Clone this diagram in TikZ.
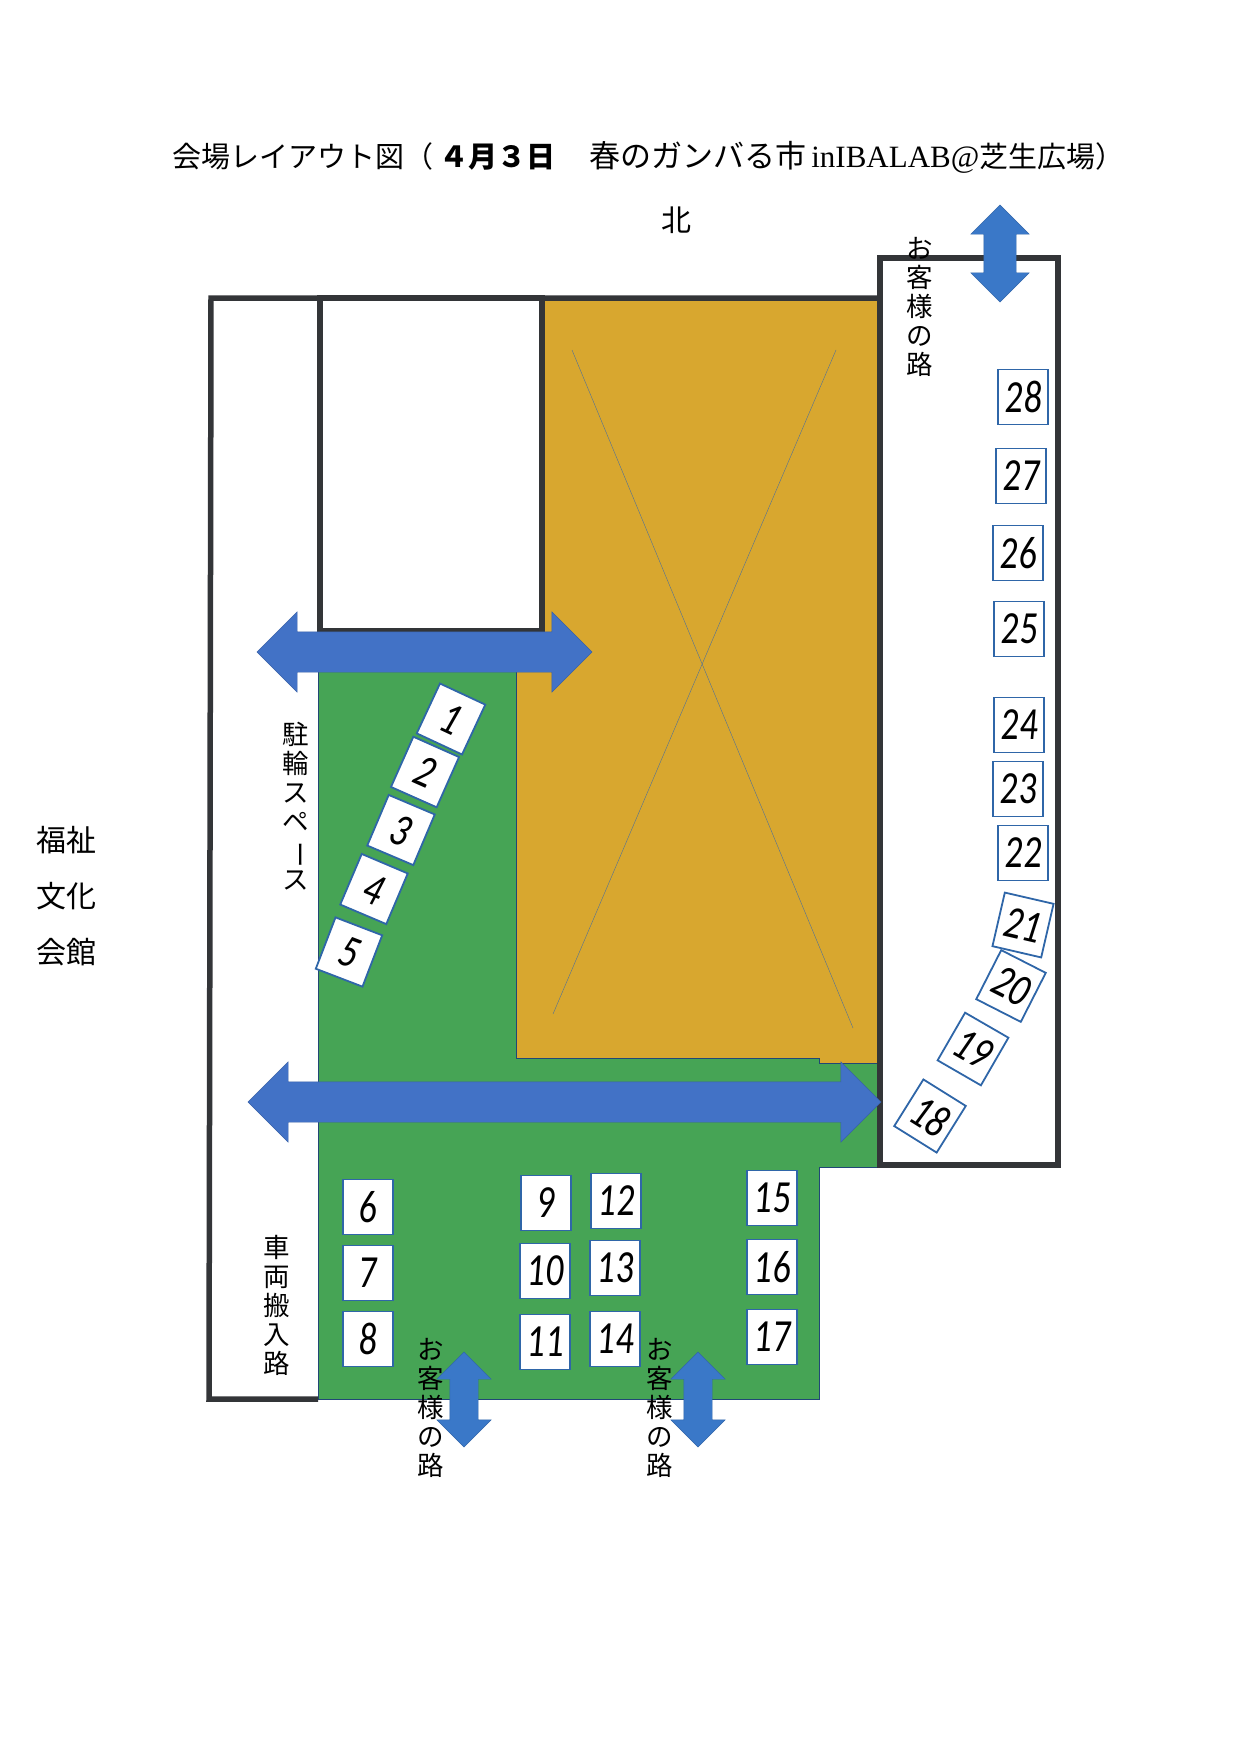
\documentclass[tikz,border=0pt]{standalone}
\usepackage{fontspec}
\usepackage{xcolor}
\usetikzlibrary{shapes.arrows}
\setmainfont{Liberation Serif}
\newfontfamily\cjk{Noto Sans CJK JP}
\newfontfamily\handnum[FakeStretch=0.78,FakeSlant=0.08]{Carlito}
\definecolor{lawn}{HTML}{46A455}
\definecolor{hall}{HTML}{D8A72F}
\definecolor{wallgray}{HTML}{333538}
\definecolor{stallblue}{HTML}{2F66A8}
\definecolor{waymain}{HTML}{4272C6}
\definecolor{wayside}{HTML}{3A78C8}
\tikzset{
    wall-line/.style = {draw=wallgray, line width=5.5pt, line join=miter},
    stall-box/.style = {draw=stallblue, fill=white, line width=1.8pt, rectangle, inner sep=0pt, minimum width=50pt, minimum height=55pt, font=\handnum\fontsize{46}{46}\selectfont},
    way-arrow/.style = {double arrow, fill=#1, draw=#1!85!black, thin, inner xsep=0pt},
    vert-label/.style = {align=center, inner sep=0pt, font=\cjk\fontsize{26.5}{29}\selectfont},
}

\begin{document}
\begin{tikzpicture}[x=1pt, y=-1pt]
\useasboundingbox (0,0) rectangle (1240,1755);
\fill[white] (0,0) rectangle (1240,1755);
% floor areas
\filldraw[fill=hall, draw=stallblue!70!black, thin] (542,300) -- (878,300) -- (878,1063) -- (819,1063) -- (819,1058) -- (516,1058) -- (516,628) -- (542,628) -- cycle;
\filldraw[fill=lawn, draw=stallblue!70!black, thin] (318,628) -- (516,628) -- (516,1058) -- (819,1058) -- (819,1063) -- (880,1063) -- (880,1167) -- (819,1167) -- (819,1399) -- (318,1399) -- cycle;
\draw[stallblue!60!gray, thin] (572,350) -- (853,1028);
\draw[stallblue!60!gray, thin] (836,350) -- (553,1014);
% walls
\draw[wall-line] (318,1399) -- (209,1399) -- (211,298) -- (880,298);
\draw[wall-line] (880,1165) -- (880,258) -- (1058,258) -- (1058,1165) -- cycle;
\draw[wall-line, fill=white] (320,298) rectangle (542,631);
% texts
\node[anchor=west, inner sep=0pt, font=\cjk\fontsize{29}{30}\selectfont] (title) at (172,157) {会場レイアウト図（\hspace{6pt}{\bfseries ４月３日}　\hspace{5pt}{\fontsize{31}{30}\selectfont 春のガンバる市}{\rmfamily\fontsize{31}{30}\selectfont\,inIBALAB@}芝生広場）};
\node[inner sep=0pt, font=\cjk\fontsize{30}{30}\selectfont] (north) at (676,220) {北};
\node[vert-label] (path-north) at (920,307) {お\\客\\様\\の\\路};
\node[vert-label] (path-south-a) at (431,1408) {お\\客\\様\\の\\路};
\node[vert-label] (path-south-b) at (660,1408) {お\\客\\様\\の\\路};
\node[vert-label] (truck-road) at (277,1305) {車\\両\\搬\\入\\路};
\node[vert-label] (bike-space) at (296,806) {駐\\輪\\ス\\ペ\\\rotatebox[origin=c]{-90}{ー}\\ス};
\node[align=center, inner sep=0pt, font=\cjk\fontsize{30}{56}\selectfont] (culture-hall) at (66,896) {福祉\\文化\\会館};
% stalls
\foreach \n/\x/\y/\a in {1/451/719/-25, 2/425/772/-24, 3/401/830/-23, 4/374/889/-23, 5/349/952/-21,
    6/368/1207/0, 7/368/1273/0, 8/368/1339/0, 9/546/1203/0, 10/545/1271/0, 11/545/1342/0,
    12/616/1201/0, 13/615/1268/0, 14/615/1339/0, 15/772/1198/0, 16/772/1267/0, 17/772/1337/0,
    18/930/1116/-32, 19/973/1049/-30, 20/1011/986/-27, 21/1023/925/-13, 22/1023/853/0,
    23/1018/789/0, 24/1019/725/0, 25/1019/629/0, 26/1018/553/0, 27/1021/476/0, 28/1023/397/0}
    \node[stall-box, rotate=\a] (stall\n) at (\x,\y) {\n};
% way arrows
\node[way-arrow=waymain, inner ysep=20pt, minimum height=335pt, minimum width=80pt, double arrow head extend=20pt] (way-upper) at (424.5,652) {};
\node[way-arrow=waymain, inner ysep=20pt, minimum height=633pt, minimum width=80pt, double arrow head extend=20pt] (way-lower) at (564.5,1102) {};
\node[way-arrow=wayside, inner ysep=16pt, rotate=90, minimum height=97pt, minimum width=58pt, double arrow head extend=13pt] (way-north) at (1000,253.5) {};
\node[way-arrow=wayside, inner ysep=14pt, rotate=90, minimum height=95pt, minimum width=54pt, double arrow head extend=13pt] (way-south-a) at (464,1399.5) {};
\node[way-arrow=wayside, inner ysep=14pt, rotate=90, minimum height=95pt, minimum width=54pt, double arrow head extend=13pt] (way-south-b) at (698,1399.5) {};
\end{tikzpicture}
\end{document}
